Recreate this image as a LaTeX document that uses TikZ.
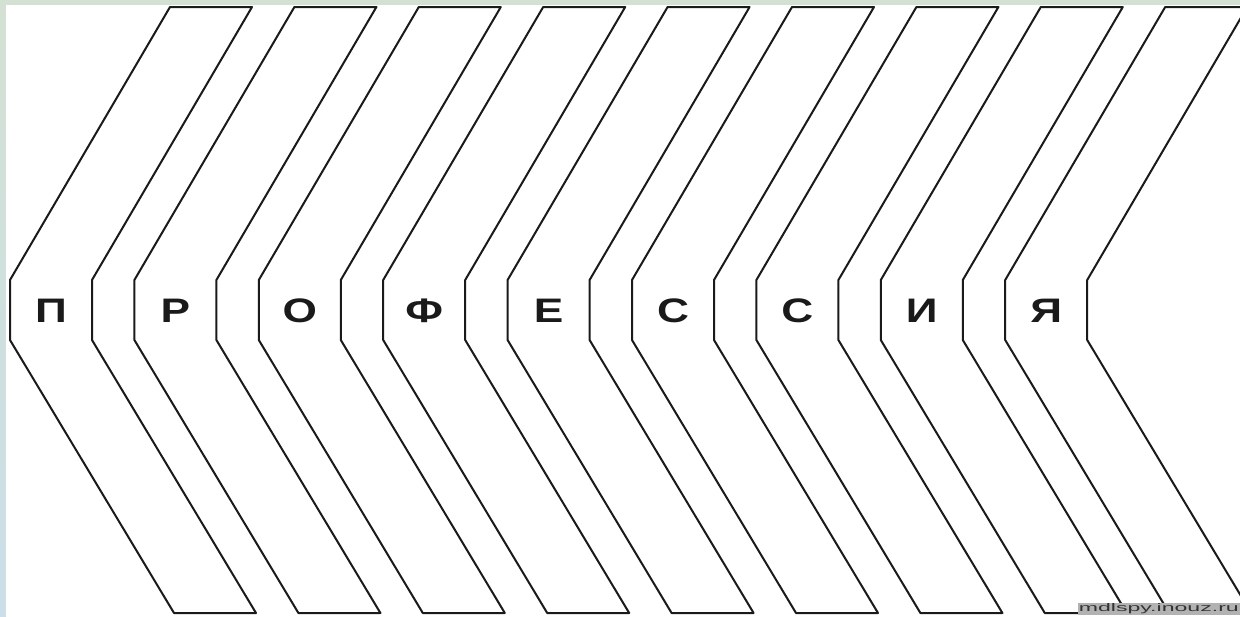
\documentclass[tikz,border=0pt]{standalone}
\usepackage{fontspec}
\setmainfont{Liberation Sans}
\definecolor{frametop}{HTML}{D3E0D3}
\definecolor{frameleft}{HTML}{CCDFE8}
\definecolor{inkline}{HTML}{1A1A1A}
\newcommand{\wideletter}[1]{\scalebox{1.3}[1]{#1}}
\begin{document}
\begin{tikzpicture}[x=1pt,y=-1pt,
  chev/.style={draw=inkline, line width=2pt, line join=round},
  lett/.style={anchor=base, inner sep=0pt, text=inkline, font=\fontsize{34}{34}\selectfont\bfseries},
  wmark/.style={anchor=south east, inner sep=1pt, fill=black!30, text=black!80}]
\useasboundingbox (0,0) rectangle (1240,616);
% frame
\shade[top color=frametop, bottom color=frameleft] (0,0) rectangle (6,616);
\fill[frametop] (0,0) rectangle (1240,5);
\fill[white] (6,5) rectangle (1240,616);
\begin{scope}
  \clip (6,5) rectangle (1240,616);
  \foreach \k in {0,...,8}{
    \pgfmathsetmacro\a{10+124.4*\k}
    \draw[chev] (\a+160,7) -- (\a+242,7) -- (\a+82,280) -- (\a+82,340)
      -- (\a+246,613) -- (\a+164,613) -- (\a,340) -- (\a,280) -- cycle;
  }
\end{scope}
% letters
\foreach \L [count=\i from 0] in {П,Р,О,Ф,Е,С,С,И,Я}{
  \node[lett] (L\i) at ({51+124.4*\i},322) {\wideletter{\L}};
}
% watermark
\node[wmark] (wm) at (1240,615) {\resizebox{160pt}{8pt}{mdlspy.inouz.ru}};
\end{tikzpicture}
\end{document}
